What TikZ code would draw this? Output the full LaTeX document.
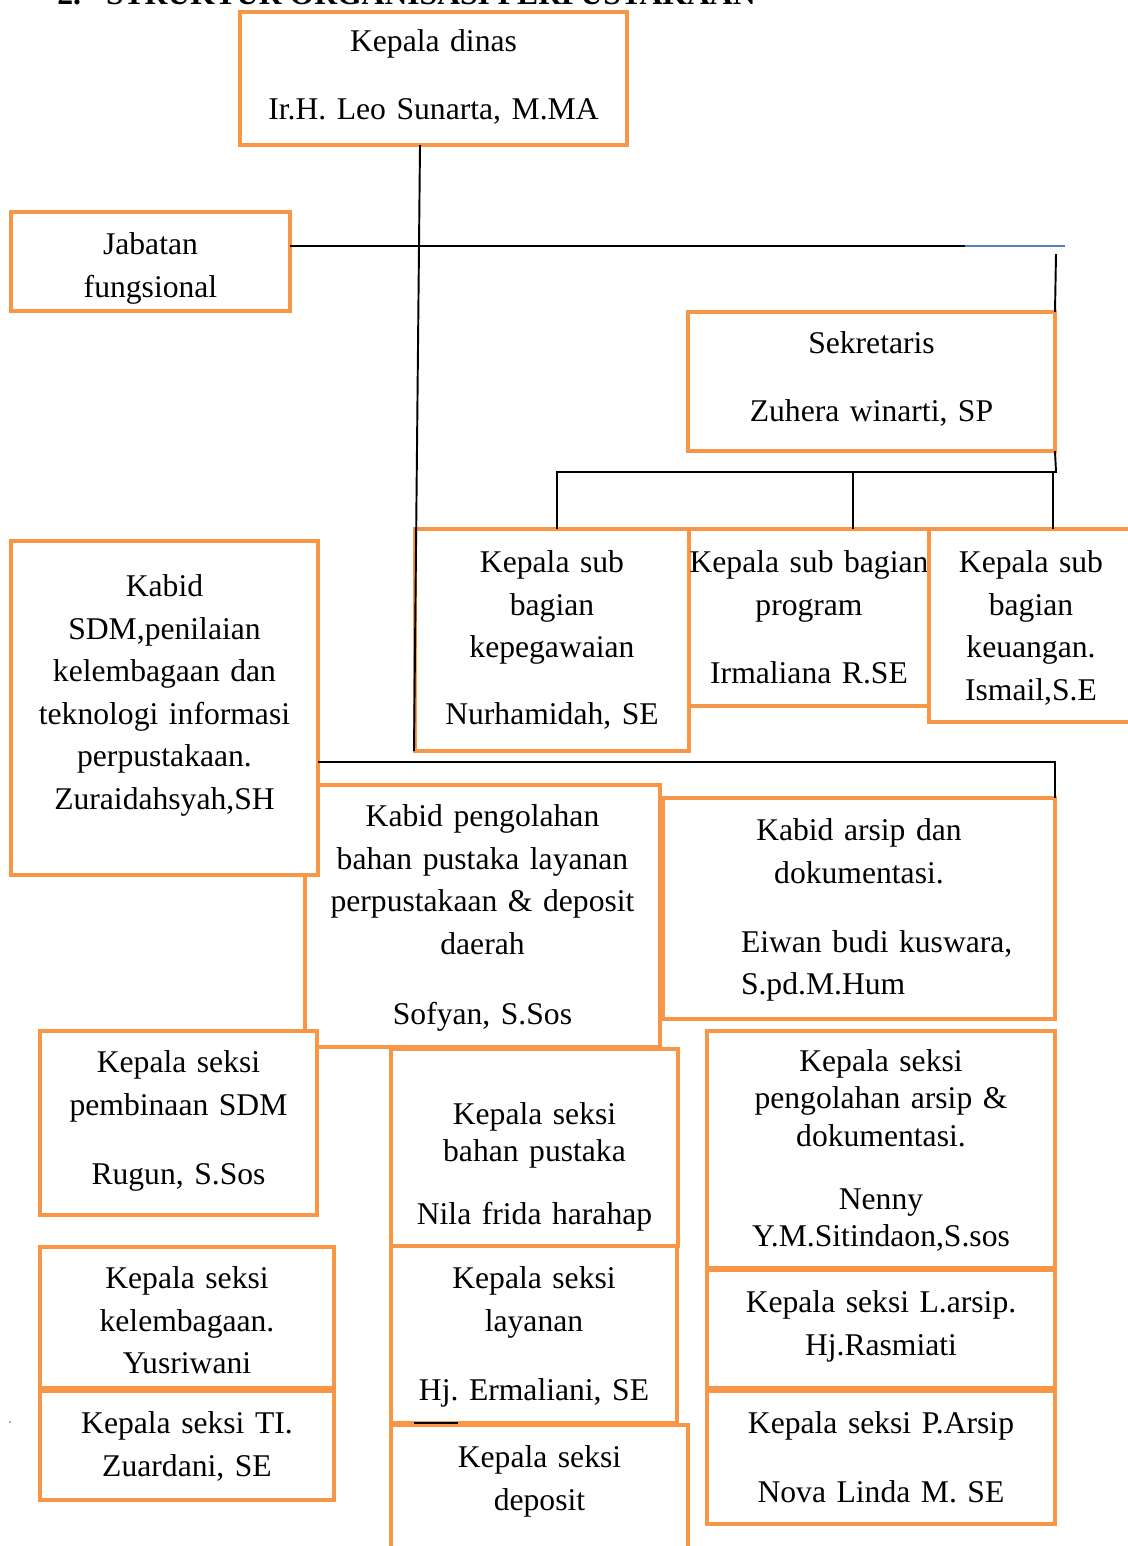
\documentclass[tikz,border=0pt]{standalone}
\usepackage{fontspec}
\setmainfont{Liberation Serif}
\frenchspacing
\newlength{\pxu}
\setlength{\pxu}{0.02cm}
\definecolor{boxorange}{HTML}{F79646}
\definecolor{linkblue}{HTML}{4F81BD}
\begin{document}
\begin{tikzpicture}[
  x=0.02cm, y=-0.02cm,
  unit/.style={draw=boxorange, fill=white, line width=2.8pt, inner sep=0pt, outer sep=0pt,
    align=center, anchor=north west, font=\fontsize{18}{24.2}\selectfont},
  tight/.style={font=\fontsize{18}{21.3}\selectfont},
  boxsize/.style n args={3}{text width=#1\pxu, text height=#2\pxu, text depth=#3\pxu},
  link/.style={draw=black, line width=1.1pt},
  bluelink/.style={draw=linkblue, line width=0.9pt}
]
\useasboundingbox (0,0) rectangle (1128,1546);

% Title (cut at the top edge)
\node[anchor=base west, inner sep=0pt, font=\fontsize{18}{24.2}\selectfont\bfseries] (title) at (57,4)
  {2.\hspace{0.5cm}STRUKTUR ORGANISASI PERPUSTAKAAN};

% Kepala dinas, jabatan fungsional, sekretaris
\node[unit, boxsize={387}{39.5}{93.5}] (dinas) at (240,12)
  {Kepala dinas\\[25.5\pxu] Ir.H. Leo Sunarta, M.MA};
\node[unit, boxsize={279}{42.5}{56.5}] (fungsional) at (11,212)
  {Jabatan\\ fungsional};
\node[unit, boxsize={367}{41.5}{97.5}] (sekretaris) at (688,312)
  {Sekretaris\\[25.5\pxu] Zuhera winarti, SP};

% Kepala sub bagian
\node[unit, boxsize={274}{43.5}{178.5}] (kepegawaian) at (415,529)
  {Kepala sub\\ bagian\\ kepegawaian\\[24.5\pxu] Nurhamidah, SE};
\node[unit, boxsize={240}{43.5}{133.5}] (program) at (689,529)
  {Kepala sub bagian\\ program\\[25.5\pxu] Irmaliana R.SE};
\node[unit, boxsize={204}{43.5}{149.5}] (keuangan) at (929,529)
  {Kepala sub\\ bagian\\ keuangan.\\ Ismail,S.E};

% Kabid
\node[unit, boxsize={355}{41.5}{220.5}] (pengolahan) at (305,785)
  {Kabid pengolahan\\ bahan pustaka layanan\\ perpustakaan \& deposit\\ daerah\\[27.5\pxu] Sofyan, S.Sos};
\node[unit, boxsize={307}{55.5}{278.5}] (sdm) at (11,541)
  {Kabid\\ SDM,penilaian\\ kelembagaan dan\\ teknologi informasi\\ perpustakaan.\\ Zuraidahsyah,SH};
\node[unit, boxsize={392}{42.5}{178.5}] (arsip) at (663,798)
  {Kabid arsip dan\\ dokumentasi.\\[26.5\pxu]
   \makebox[\linewidth][l]{\hspace*{78\pxu}Eiwan budi kuswara,}\\
   \makebox[\linewidth][l]{\hspace*{78\pxu}S.pd.M.Hum}};

% Kepala seksi
\node[unit, boxsize={277}{41.5}{142.5}] (pembinaan) at (40,1031)
  {Kepala seksi\\ pembinaan SDM\\[26.5\pxu] Rugun, S.Sos};
\node[unit, tight, boxsize={287}{75.5}{121.5}] (bahan) at (391,1049)
  {Kepala seksi\\ bahan pustaka\\[25.5\pxu] Nila frida harahap};
\node[unit, tight, boxsize={348}{40.5}{196.5}] (olaharsip) at (707,1031)
  {Kepala seksi\\ pengolahan arsip \&\\ dokumentasi.\\[25.5\pxu] Nenny\\ Y.M.Sitindaon,S.sos};
\node[unit, boxsize={294}{41.5}{99.5}] (kelembagaan) at (40,1247)
  {Kepala seksi\\ kelembagaan.\\ Yusriwani};
\node[unit, boxsize={286}{42.5}{134.5}] (layanan) at (391,1246)
  {Kepala seksi\\ layanan\\[26.5\pxu] Hj. Ermaliani, SE};
\node[unit, boxsize={348}{42.5}{75.5}] (larsip) at (707,1270)
  {Kepala seksi L.arsip.\\ Hj.Rasmiati};
\node[unit, boxsize={294}{42.5}{66.5}] (ti) at (40,1391)
  {Kepala seksi TI.\\ Zuardani, SE};
\node[unit, boxsize={297}{42.5}{97.5}] (deposit) at (391,1425)
  {Kepala seksi\\ deposit};
\node[unit, boxsize={348}{42.5}{90.5}] (parsip) at (707,1391)
  {Kepala seksi P.Arsip\\[26.5\pxu] Nova Linda M. SE};

% Links
\coordinate (trunkfoot) at (414,751);
\draw[link] ([xshift=-0.27cm]dinas.south) -- (trunkfoot);
\draw[link] ([yshift=0.31cm]fungsional.east) -- ++(675,0) coordinate (bluestart);
\draw[bluelink] (bluestart) -- ++(100,0);
\draw[link] (sekretaris.north east) -- ++(1,-58);

\coordinate (busright) at (1056,472);
\coordinate (busleft) at (557,472);
\coordinate (dropprogram) at (853,472);
\coordinate (dropkeuangan) at (1053,472);
\draw[link] (sekretaris.south east) -- (busright) -- (busleft) -- (busleft |- kepegawaian.north);
\draw[link] (dropprogram) -- (dropprogram |- program.north);
\draw[link] (dropkeuangan) -- (dropkeuangan |- keuangan.north);

\draw[link] ([yshift=-1.08cm]sdm.east) -| (arsip.north east);
\draw[link, line width=1.6pt] ([shift={(23,-2)}]deposit.north west) -- ++(44,0);
\fill[linkblue] (10,1422) circle (1);
\end{tikzpicture}
\end{document}
